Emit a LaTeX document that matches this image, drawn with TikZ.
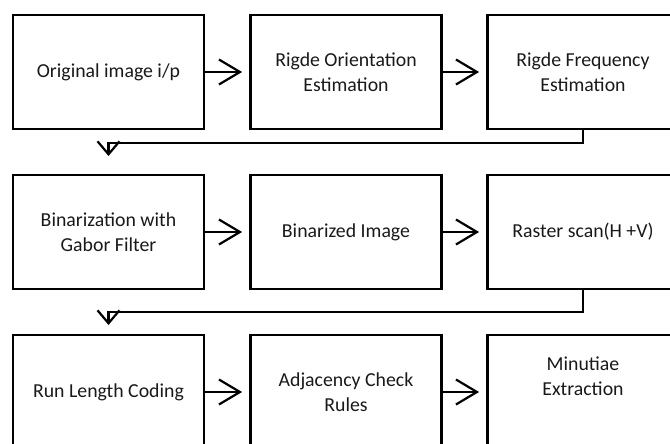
\documentclass[tikz,border=0pt]{standalone}
\usepackage{fontspec}
\setmainfont{Carlito}
\usetikzlibrary{arrows.meta}
\begin{document}
\begin{tikzpicture}[x=1pt,y=-1pt,
  stepbox/.style={draw=black,line width=2.8pt,minimum width=191pt,minimum height=114pt,
    inner sep=0pt,align=center,font=\fontsize{19.8}{24.5}\selectfont,text=black!90},
  lbl/.style={align=center,font=\fontsize{19.8}{24.5}\selectfont,text=black!90},
  conn/.style={draw=black,line width=2.2pt,-{Straight Barb[length=21pt,width=25pt,line width=2.2pt]},shorten >=7pt},
  fb/.style={draw=black,line width=2.2pt,-{Straight Barb[length=13pt,width=22pt,line width=2.2pt]}}]
\useasboundingbox (0,0) rectangle (670,444);
\clip (0,0) rectangle (670,444);
\node[stepbox] (b1) at (108.5,72) {Original image i/p};
\node[stepbox] (b2) at (346,72) {Rigde Orientation\\Estimation};
\node[stepbox] (b3) at (583,72) {Rigde Frequency\\Estimation};
\node[stepbox] (b4) at (108.5,232) {Binarization with\\Gabor Filter};
\node[stepbox] (b5) at (346,232) {Binarized Image};
\node[stepbox] (b6) at (583,232) {Raster scan(H +V)};
\node[stepbox] (b7) at (108.5,392) {Run Length Coding};
\node[stepbox] (b8) at (346,392) {Adjacency Check\\Rules};
\node[stepbox] (b9) at (583,392) {};
\node[lbl] (t9) at (583,376) {Minutiae\\Extraction};
\coordinate (c1) at (108.5,143);
\coordinate (c2) at (108.5,156);
\coordinate (c3) at (108.5,312);
\coordinate (c4) at (108.5,325);
\draw[conn] (b1) -- (b2);
\draw[conn] (b2) -- (b3);
\draw[conn] (b4) -- (b5);
\draw[conn] (b5) -- (b6);
\draw[conn] (b7) -- (b8);
\draw[conn] (b8) -- (b9);
\draw[fb] (b3.south) |- (c1) -- (c2);
\draw[fb] (b6.south) |- (c3) -- (c4);
\end{tikzpicture}
\end{document}
